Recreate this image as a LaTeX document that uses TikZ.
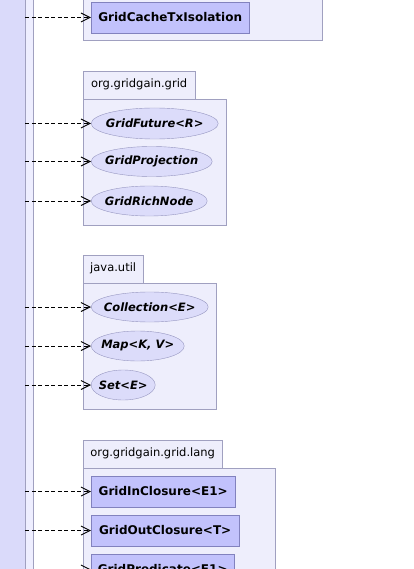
\documentclass[tikz,border=0pt]{standalone}
\usepackage{fontspec}
\usepackage{tikz}
\usetikzlibrary{shapes.geometric, arrows.meta, positioning}
\newfontfamily\umlfont{DejaVu Sans}
\definecolor{stripfill}{RGB}{218, 218, 250}
\definecolor{barfill}{RGB}{238, 238, 255}
\definecolor{pkgfill}{RGB}{238, 238, 252}
\definecolor{pkgline}{RGB}{160, 160, 192}
\definecolor{classfill}{RGB}{194, 194, 252}
\definecolor{classline}{RGB}{130, 130, 190}
\definecolor{ifacefill}{RGB}{220, 220, 250}
\definecolor{ifaceline}{RGB}{150, 150, 192}

\begin{document}
\begin{tikzpicture}[x=1pt, y=-1pt,
    strip/.style={rectangle, draw=pkgline, anchor=north west, inner sep=0pt},
    pkg/.style={rectangle, draw=pkgline, fill=pkgfill, anchor=north west, inner sep=0pt},
    pkgtab/.style={rectangle, draw=pkgline, fill=pkgfill, anchor=south west, inner sep=0pt, minimum height=28pt, font=\umlfont\fontsize{11.5}{13}\selectfont},
    cls/.style={rectangle, draw=classline, fill=classfill, anchor=west, inner sep=0pt, minimum height=31pt, font=\umlfont\fontsize{12}{14}\selectfont\bfseries},
    iface/.style={ellipse, draw=ifaceline, fill=ifacefill, anchor=west, inner sep=0pt, minimum height=30pt, font=\umlfont\fontsize{11.5}{14}\selectfont\bfseries\itshape,
      execute at begin node={\hbox to 0pt\bgroup\hss}, execute at end node={\hss\egroup}},
    dep/.style={dash pattern=on 4pt off 2.5pt, -{Straight Barb[length=9pt, width=9pt, line width=0.9pt]}, thin, draw=black}
  ]
    \useasboundingbox (0,0) rectangle (414,569);

    % caller on the left
    \node[strip, fill=stripfill, minimum width=27pt, minimum height=600pt] (src) at (-2,-10) {};
    \node[strip, fill=barfill, minimum width=8pt, minimum height=600pt] (srcbar) at (25,-10) {};

    % packages
    \node[pkg, minimum width=239pt, minimum height=50pt] (cachepkg) at (83,-10) {};
    \node[pkg, minimum width=143pt, minimum height=126pt] (gridpkg) at (83,99) {};
    \node[pkgtab, minimum width=112pt] (gridtab) at (gridpkg.north west) {org.gridgain.grid};
    \node[pkg, minimum width=133pt, minimum height=126pt] (utilpkg) at (83,283) {};
    \node[pkgtab, minimum width=60pt] (utiltab) at (utilpkg.north west) {java.util};
    \node[pkg, minimum width=192pt, minimum height=140pt] (langpkg) at (83,468) {};
    \node[pkgtab, minimum width=139pt] (langtab) at (langpkg.north west) {org.gridgain.grid.lang};

    % types
    \node[cls, minimum width=158pt] (txiso) at (91,17.5) {GridCacheTxIsolation};
    \node[iface, minimum width=127pt, minimum height=31pt] (future) at (91,123.5) {GridFuture<R>};
    \node[iface, minimum width=121pt] (proj) at (91,161.5) {GridProjection};
    \node[iface, minimum width=116pt] (rich) at (91,201) {GridRichNode};
    \node[iface, minimum width=117pt] (coll) at (91,307) {Collection<E>};
    \node[iface, minimum width=93pt] (map) at (91,346) {Map<K, V>};
    \node[iface, minimum width=64pt] (set) at (91,385) {Set<E>};
    \node[cls, minimum width=144pt] (inclos) at (91,491.5) {GridInClosure<E1>};
    \node[cls, minimum width=148pt] (outclos) at (91,530.5) {GridOutClosure<T>};
    \node[cls, minimum width=143pt] (pred) at (91,569.5) {GridPredicate<E1>};

    % dependencies
    \foreach \t in {txiso, future, proj, rich, coll, map, set, inclos, outclos, pred}
      \draw[dep] (src.east |- \t.west) -- (\t.west);
  \end{tikzpicture}
\end{document}
